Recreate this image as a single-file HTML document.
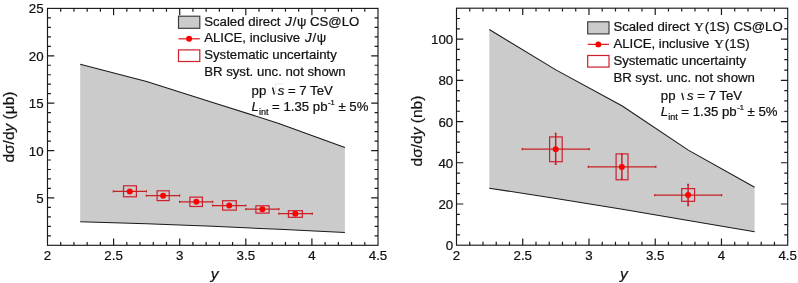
<!DOCTYPE html><html><head><meta charset="utf-8"><style>
html,body{margin:0;padding:0;background:#fff;width:798px;height:283px;overflow:hidden}
svg{display:block;will-change:transform} text{font-family:"Liberation Sans", sans-serif;fill:#111;stroke:#111;stroke-width:0.22px} .tl{font-size:13.3px} .lg{font-size:13.2px} .at{font-size:15.5px}
</style></head><body>
<svg width="798" height="283" viewBox="0 0 798 283">
<polygon points="80.2,64.2 146.6,81.5 212.7,102.4 278.8,123.4 344.9,147.6 344.9,232.6 278.8,229.3 212.7,226.3 146.6,223.8 80.2,221.7" fill="#cbcbcb" stroke="none"/>
<polyline points="80.2,64.2 146.6,81.5 212.7,102.4 278.8,123.4 344.9,147.6" fill="none" stroke="#1a1a1a" stroke-width="1.05"/>
<polyline points="80.2,221.7 146.6,223.8 212.7,226.3 278.8,229.3 344.9,232.6" fill="none" stroke="#1a1a1a" stroke-width="1.05"/>
<rect x="47.5" y="8.4" width="330.5" height="236.9" fill="none" stroke="#1a1a1a" stroke-width="1.15"/>
<path d="M60.72 245.3v-3.4M60.72 8.4v3.4M73.94 245.3v-3.4M73.94 8.4v3.4M87.16 245.3v-3.4M87.16 8.4v3.4M100.38 245.3v-3.4M100.38 8.4v3.4M113.6 245.3v-6.8M113.6 8.4v6.8M126.82 245.3v-3.4M126.82 8.4v3.4M140.04 245.3v-3.4M140.04 8.4v3.4M153.26 245.3v-3.4M153.26 8.4v3.4M166.48 245.3v-3.4M166.48 8.4v3.4M179.7 245.3v-6.8M179.7 8.4v6.8M192.92 245.3v-3.4M192.92 8.4v3.4M206.14 245.3v-3.4M206.14 8.4v3.4M219.36 245.3v-3.4M219.36 8.4v3.4M232.58 245.3v-3.4M232.58 8.4v3.4M245.8 245.3v-6.8M245.8 8.4v6.8M259.02 245.3v-3.4M259.02 8.4v3.4M272.24 245.3v-3.4M272.24 8.4v3.4M285.46 245.3v-3.4M285.46 8.4v3.4M298.68 245.3v-3.4M298.68 8.4v3.4M311.9 245.3v-6.8M311.9 8.4v6.8M325.12 245.3v-3.4M325.12 8.4v3.4M338.34 245.3v-3.4M338.34 8.4v3.4M351.56 245.3v-3.4M351.56 8.4v3.4M364.78 245.3v-3.4M364.78 8.4v3.4M47.5 235.82h3.4M378 235.82h-3.4M47.5 226.35h3.4M378 226.35h-3.4M47.5 216.87h3.4M378 216.87h-3.4M47.5 207.4h3.4M378 207.4h-3.4M47.5 197.92h6.8M378 197.92h-6.8M47.5 188.44h3.4M378 188.44h-3.4M47.5 178.97h3.4M378 178.97h-3.4M47.5 169.49h3.4M378 169.49h-3.4M47.5 160.02h3.4M378 160.02h-3.4M47.5 150.54h6.8M378 150.54h-6.8M47.5 141.06h3.4M378 141.06h-3.4M47.5 131.59h3.4M378 131.59h-3.4M47.5 122.11h3.4M378 122.11h-3.4M47.5 112.64h3.4M378 112.64h-3.4M47.5 103.16h6.8M378 103.16h-6.8M47.5 93.68h3.4M378 93.68h-3.4M47.5 84.21h3.4M378 84.21h-3.4M47.5 74.73h3.4M378 74.73h-3.4M47.5 65.26h3.4M378 65.26h-3.4M47.5 55.78h6.8M378 55.78h-6.8M47.5 46.3h3.4M378 46.3h-3.4M47.5 36.83h3.4M378 36.83h-3.4M47.5 27.35h3.4M378 27.35h-3.4M47.5 17.88h3.4M378 17.88h-3.4" stroke="#1a1a1a" stroke-width="1.2" fill="none"/>
<text x="47.5" y="259.6" text-anchor="middle" class="tl">2</text>
<text x="113.6" y="259.6" text-anchor="middle" class="tl">2.5</text>
<text x="179.7" y="259.6" text-anchor="middle" class="tl">3</text>
<text x="245.8" y="259.6" text-anchor="middle" class="tl">3.5</text>
<text x="311.9" y="259.6" text-anchor="middle" class="tl">4</text>
<text x="378" y="259.6" text-anchor="middle" class="tl">4.5</text>
<text x="43.6" y="202.92" text-anchor="end" class="tl">5</text>
<text x="43.6" y="155.54" text-anchor="end" class="tl">10</text>
<text x="43.6" y="108.16" text-anchor="end" class="tl">15</text>
<text x="43.6" y="60.78" text-anchor="end" class="tl">20</text>
<text x="43.6" y="13.4" text-anchor="end" class="tl">25</text>
<path d="M113.3 191.4H146.4M113.3 190.3v2.2M146.4 190.3v2.2" stroke="#c62222" stroke-width="1.25" fill="none"/>
<rect x="123.5" y="185.8" width="12.9" height="11" fill="none" stroke="#cf1f2c" stroke-width="1.2"/>
<circle cx="129.8" cy="191.4" r="3.0" fill="#ff0000"/>
<path d="M146.4 195.7H179.6M146.4 194.6v2.2M179.6 194.6v2.2" stroke="#c62222" stroke-width="1.25" fill="none"/>
<rect x="157.1" y="190.8" width="12.1" height="9.8" fill="none" stroke="#cf1f2c" stroke-width="1.2"/>
<circle cx="163.1" cy="195.7" r="3.0" fill="#ff0000"/>
<path d="M179.6 201.8H212.6M179.6 200.7v2.2M212.6 200.7v2.2" stroke="#c62222" stroke-width="1.25" fill="none"/>
<rect x="189.9" y="197.1" width="12.5" height="9.4" fill="none" stroke="#cf1f2c" stroke-width="1.2"/>
<circle cx="196.3" cy="201.8" r="3.0" fill="#ff0000"/>
<path d="M212.6 205.5H245.8M212.6 204.4v2.2M245.8 204.4v2.2" stroke="#c62222" stroke-width="1.25" fill="none"/>
<rect x="222.6" y="200.7" width="13.7" height="9.4" fill="none" stroke="#cf1f2c" stroke-width="1.2"/>
<circle cx="229.2" cy="205.5" r="3.0" fill="#ff0000"/>
<path d="M245.8 209.2H278.9M245.8 208.1v2.2M278.9 208.1v2.2" stroke="#c62222" stroke-width="1.25" fill="none"/>
<rect x="255.9" y="205.8" width="13.2" height="7.3" fill="none" stroke="#cf1f2c" stroke-width="1.2"/>
<circle cx="262.4" cy="209.2" r="3.0" fill="#ff0000"/>
<path d="M278.9 213.7H312.3M278.9 212.6v2.2M312.3 212.6v2.2" stroke="#c62222" stroke-width="1.25" fill="none"/>
<rect x="288.4" y="210.7" width="14" height="6.6" fill="none" stroke="#cf1f2c" stroke-width="1.2"/>
<circle cx="295.3" cy="213.7" r="3.0" fill="#ff0000"/>
<polygon points="489.3,29.5 555.9,69.9 622.3,106 688.3,150.1 754.6,187.3 754.6,231.8 688.3,220.6 622.3,209.2 555.9,198.5 489.3,188.2" fill="#cbcbcb" stroke="none"/>
<polyline points="489.3,29.5 555.9,69.9 622.3,106 688.3,150.1 754.6,187.3" fill="none" stroke="#1a1a1a" stroke-width="1.05"/>
<polyline points="489.3,188.2 555.9,198.5 622.3,209.2 688.3,220.6 754.6,231.8" fill="none" stroke="#1a1a1a" stroke-width="1.05"/>
<rect x="456.5" y="8.2" width="331.2" height="237" fill="none" stroke="#1a1a1a" stroke-width="1.15"/>
<path d="M469.75 245.2v-3.4M469.75 8.2v3.4M483 245.2v-3.4M483 8.2v3.4M496.24 245.2v-3.4M496.24 8.2v3.4M509.49 245.2v-3.4M509.49 8.2v3.4M522.74 245.2v-6.8M522.74 8.2v6.8M535.99 245.2v-3.4M535.99 8.2v3.4M549.24 245.2v-3.4M549.24 8.2v3.4M562.48 245.2v-3.4M562.48 8.2v3.4M575.73 245.2v-3.4M575.73 8.2v3.4M588.98 245.2v-6.8M588.98 8.2v6.8M602.23 245.2v-3.4M602.23 8.2v3.4M615.48 245.2v-3.4M615.48 8.2v3.4M628.72 245.2v-3.4M628.72 8.2v3.4M641.97 245.2v-3.4M641.97 8.2v3.4M655.22 245.2v-6.8M655.22 8.2v6.8M668.47 245.2v-3.4M668.47 8.2v3.4M681.72 245.2v-3.4M681.72 8.2v3.4M694.96 245.2v-3.4M694.96 8.2v3.4M708.21 245.2v-3.4M708.21 8.2v3.4M721.46 245.2v-6.8M721.46 8.2v6.8M734.71 245.2v-3.4M734.71 8.2v3.4M747.96 245.2v-3.4M747.96 8.2v3.4M761.2 245.2v-3.4M761.2 8.2v3.4M774.45 245.2v-3.4M774.45 8.2v3.4M456.5 234.9h3.4M787.7 234.9h-3.4M456.5 224.59h3.4M787.7 224.59h-3.4M456.5 214.29h3.4M787.7 214.29h-3.4M456.5 203.98h6.8M787.7 203.98h-6.8M456.5 193.68h3.4M787.7 193.68h-3.4M456.5 183.37h3.4M787.7 183.37h-3.4M456.5 173.07h3.4M787.7 173.07h-3.4M456.5 162.77h6.8M787.7 162.77h-6.8M456.5 152.46h3.4M787.7 152.46h-3.4M456.5 142.16h3.4M787.7 142.16h-3.4M456.5 131.85h3.4M787.7 131.85h-3.4M456.5 121.55h6.8M787.7 121.55h-6.8M456.5 111.24h3.4M787.7 111.24h-3.4M456.5 100.94h3.4M787.7 100.94h-3.4M456.5 90.63h3.4M787.7 90.63h-3.4M456.5 80.33h6.8M787.7 80.33h-6.8M456.5 70.03h3.4M787.7 70.03h-3.4M456.5 59.72h3.4M787.7 59.72h-3.4M456.5 49.42h3.4M787.7 49.42h-3.4M456.5 39.11h6.8M787.7 39.11h-6.8M456.5 28.81h3.4M787.7 28.81h-3.4M456.5 18.5h3.4M787.7 18.5h-3.4" stroke="#1a1a1a" stroke-width="1.2" fill="none"/>
<text x="456.5" y="259.6" text-anchor="middle" class="tl">2</text>
<text x="522.74" y="259.6" text-anchor="middle" class="tl">2.5</text>
<text x="588.98" y="259.6" text-anchor="middle" class="tl">3</text>
<text x="655.22" y="259.6" text-anchor="middle" class="tl">3.5</text>
<text x="721.46" y="259.6" text-anchor="middle" class="tl">4</text>
<text x="787.7" y="259.6" text-anchor="middle" class="tl">4.5</text>
<text x="453.2" y="250.2" text-anchor="end" class="tl">0</text>
<text x="453.2" y="208.98" text-anchor="end" class="tl">20</text>
<text x="453.2" y="167.77" text-anchor="end" class="tl">40</text>
<text x="453.2" y="126.55" text-anchor="end" class="tl">60</text>
<text x="453.2" y="85.33" text-anchor="end" class="tl">80</text>
<text x="453.2" y="44.11" text-anchor="end" class="tl">100</text>
<path d="M522.3 149.2H589.2M522.3 148.1v2.2M589.2 148.1v2.2" stroke="#c62222" stroke-width="1.25" fill="none"/>
<path d="M555.7 133.6V164.3M554.7 133.6h2M554.7 164.3h2" stroke="#c2222e" stroke-width="1.5" fill="none"/>
<rect x="549.6" y="136.9" width="12.6" height="24.8" fill="none" stroke="#cf1f2c" stroke-width="1.2"/>
<circle cx="555.7" cy="149.2" r="3.0" fill="#ff0000"/>
<path d="M588.3 166.9H655.8M588.3 165.8v2.2M655.8 165.8v2.2" stroke="#c62222" stroke-width="1.25" fill="none"/>
<path d="M621.9 154.1V179.1M620.9 154.1h2M620.9 179.1h2" stroke="#c2222e" stroke-width="1.5" fill="none"/>
<rect x="616.1" y="153.9" width="11.9" height="25.9" fill="none" stroke="#cf1f2c" stroke-width="1.2"/>
<circle cx="621.9" cy="166.9" r="3.0" fill="#ff0000"/>
<path d="M654.8 195.1H721.6M654.8 194v2.2M721.6 194v2.2" stroke="#c62222" stroke-width="1.25" fill="none"/>
<path d="M688.1 184.6V205.4M687.1 184.6h2M687.1 205.4h2" stroke="#c2222e" stroke-width="1.5" fill="none"/>
<rect x="681.7" y="188.6" width="12.9" height="12.7" fill="none" stroke="#cf1f2c" stroke-width="1.2"/>
<circle cx="688.1" cy="195.1" r="3.0" fill="#ff0000"/>
<rect x="178.5" y="16.2" width="21.3" height="12.1" fill="#cbcbcb" stroke="#3a3a3a" stroke-width="1.15"/>
<path d="M178.5 38.8H199.8" stroke="#dc1e1e" stroke-width="1.25"/>
<circle cx="189.1" cy="38.8" r="2.95" fill="#ff0000"/>
<rect x="178.5" y="49.9" width="21.3" height="11.6" fill="#fff" stroke="#cf1f2c" stroke-width="1.2"/>
<text x="204.2" y="25.6" class="lg">Scaled direct<tspan dx="1.2"> </tspan><tspan font-style="italic">J</tspan><tspan dx="0.8">/</tspan><tspan dx="0.6">ψ</tspan> CS@LO</text>
<text x="204.2" y="42.4" class="lg">ALICE, inclusive<tspan dx="1.2"> </tspan><tspan font-style="italic">J</tspan><tspan dx="0.8">/</tspan><tspan dx="0.6">ψ</tspan></text>
<text x="204.2" y="59.2" class="lg">Systematic uncertainty</text>
<text x="204.2" y="75.9" class="lg">BR syst. unc. not shown</text>
<text x="251.6" y="94.6" class="lg">pp<tspan dx="7.8"> </tspan><tspan font-style="italic">s</tspan> = 7 TeV</text>
<path d="M272.6 87.5L274.3 94.5" stroke="#111" stroke-width="1.3" fill="none"/>
<path d="M275.5 94V83.7H283.8" stroke="#e4e4e4" stroke-width="0.8" fill="none"/>
<text x="251.6" y="111.1" class="lg"><tspan font-style="italic">L</tspan><tspan font-size="9" dy="3.5">int</tspan><tspan dy="-3.5"> = 1.35 pb</tspan><tspan font-size="7.5" dx="0.6" dy="-6.3">-1</tspan><tspan dy="6.3"> ± 5%</tspan></text>
<rect x="587.7" y="21.8" width="21.3" height="12.1" fill="#cbcbcb" stroke="#3a3a3a" stroke-width="1.15"/>
<path d="M587.7 44.4H609" stroke="#dc1e1e" stroke-width="1.25"/>
<circle cx="598.3" cy="44.4" r="2.95" fill="#ff0000"/>
<rect x="587.7" y="55.5" width="21.3" height="11.6" fill="#fff" stroke="#cf1f2c" stroke-width="1.2"/>
<text x="613.4" y="31.2" class="lg">Scaled direct<tspan dx="1.0"> </tspan><tspan font-family="Liberation Serif">Υ</tspan><tspan dx="1">(1S)</tspan> CS@LO</text>
<text x="613.4" y="48" class="lg">ALICE, inclusive<tspan dx="1.2"> </tspan><tspan font-family="Liberation Serif">Υ</tspan><tspan dx="1">(1S)</tspan></text>
<text x="613.4" y="64.8" class="lg">Systematic uncertainty</text>
<text x="613.4" y="81.5" class="lg">BR syst. unc. not shown</text>
<text x="660.8" y="99.92" class="lg">pp<tspan dx="7.8"> </tspan><tspan font-style="italic">s</tspan> = 7 TeV</text>
<path d="M681.8 92.82L683.5 99.82" stroke="#111" stroke-width="1.3" fill="none"/>
<path d="M684.7 99.32V89.02H693" stroke="#e4e4e4" stroke-width="0.8" fill="none"/>
<text x="660.8" y="116.42" class="lg"><tspan font-style="italic">L</tspan><tspan font-size="9" dy="3.5">int</tspan><tspan dy="-3.5"> = 1.35 pb</tspan><tspan font-size="7.5" dx="0.6" dy="-6.3">-1</tspan><tspan dy="6.3"> ± 5%</tspan></text>
<text transform="translate(14.4,162.6) rotate(-90)" class="at">dσ/d<tspan font-style="italic">y</tspan> (μb)</text>
<text transform="translate(422.0,166.4) rotate(-90)" class="at">dσ/d<tspan font-style="italic">y</tspan> (nb)</text>
<text x="210.7" y="278.5" class="at" font-style="italic">y</text>
<text x="620" y="278.5" class="at" font-style="italic">y</text>
</svg></body></html>
